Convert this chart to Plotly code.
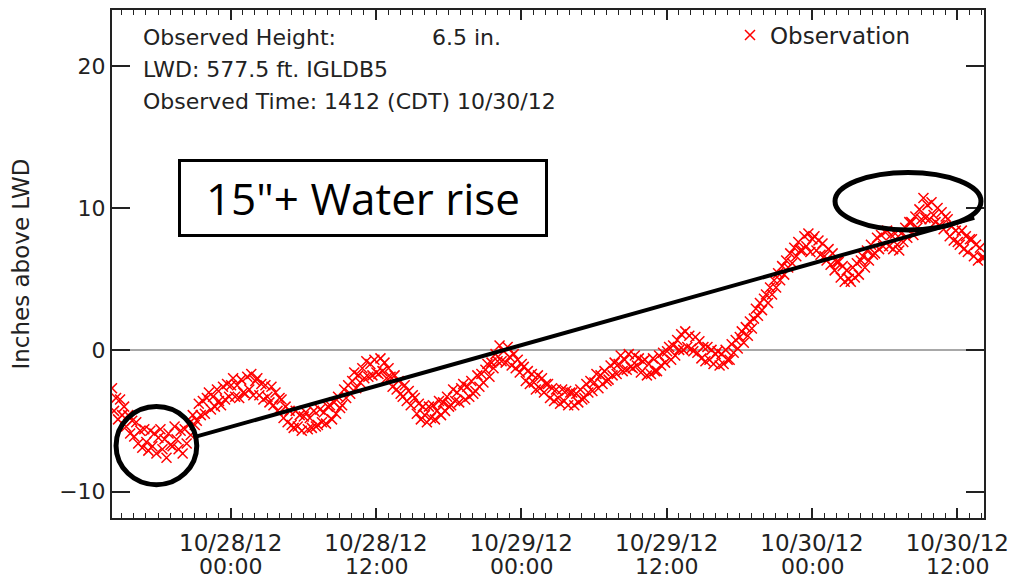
import pandas as pd
import plotly.graph_objects as go

# ---------------- data ----------------
start_time = "2012-10-27 14:12"
end_time = "2012-10-30 14:12"
sample_step = "10min"

# Observed water level (inches above LWD), six readings per hour (every 10 min)
obs_hourly = [
    [-2.7, -4.3, -3.4, -4.9, -3.5, -4.6], [-4.0, -5.4, -4.6, -5.9, -5.0, -6.1],
    [-5.1, -6.6, -5.7, -6.9, -5.6, -6.5], [-7.1, -5.7, -6.8, -5.9, -7.3, -6.2],
    [-5.6, -7.0, -6.3, -7.6, -5.9, -6.7], [-6.8, -5.4, -6.3, -7.0, -5.7, -7.3],
    [-5.6, -6.6, -5.2, -6.0, -4.6, -5.3], [-5.0, -3.8, -4.6, -3.6, -4.5, -3.4],
    [-3.0, -4.2, -3.3, -4.0, -2.8, -3.6], [-3.9, -2.6, -3.5, -2.4, -3.3, -2.5],
    [-2.0, -3.3, -2.5, -3.4, -2.1, -3.0], [-3.1, -1.9, -2.8, -1.7, -3.2, -2.2],
    [-2.0, -3.2, -2.4, -3.5, -2.5, -3.3], [-3.7, -2.6, -3.9, -3.0, -4.3, -3.4],
    [-3.5, -4.8, -4.0, -5.1, -4.3, -5.3], [-5.5, -4.3, -5.4, -4.6, -5.7, -4.7],
    [-4.4, -5.6, -4.8, -5.5, -4.3, -5.4], [-5.3, -4.2, -5.1, -4.4, -5.2, -4.0],
    [-3.9, -4.9, -3.7, -4.5, -3.3, -4.1], [-3.9, -2.8, -3.4, -2.5, -3.1, -2.2],
    [-1.6, -2.7, -1.8, -2.3, -1.3, -2.0], [-0.8, -1.9, -1.0, -1.8, -0.7, -1.6],
    [-1.7, -0.6, -1.5, -0.9, -2.0, -1.3], [-1.9, -2.6, -1.8, -2.8, -2.2, -3.1],
    [-3.3, -2.5, -3.6, -2.9, -3.9, -3.2], [-3.4, -4.5, -3.8, -4.9, -4.0, -4.6],
    [-5.1, -4.0, -4.8, -3.9, -4.9, -4.3], [-3.6, -4.6, -3.7, -4.3, -3.3, -4.0],
    [-3.9, -2.8, -3.6, -3.0, -3.7, -2.7], [-2.4, -3.5, -2.6, -3.3, -2.2, -3.1],
    [-2.9, -1.8, -2.6, -1.7, -2.3, -1.4], [-1.0, -1.9, -0.9, -1.3, -0.3, -0.8],
    [0.3, -0.8, -0.1, -0.9, 0.2, -0.5], [-1.1, -0.3, -1.3, -0.7, -1.6, -1.0],
    [-1.2, -2.2, -1.5, -2.4, -1.7, -2.3], [-2.8, -1.8, -2.7, -2.0, -3.0, -2.4],
    [-2.4, -3.4, -2.7, -3.6, -2.8, -3.4], [-3.8, -2.8, -3.6, -2.9, -3.9, -3.0],
    [-3.0, -3.9, -3.1, -3.7, -2.8, -3.5], [-3.4, -2.4, -3.0, -2.2, -2.9, -2.3],
    [-1.7, -2.7, -1.8, -2.4, -1.5, -2.2], [-2.1, -1.1, -1.8, -0.9, -1.7, -1.0],
    [-0.4, -1.5, -0.7, -1.4, -0.3, -1.2], [-1.3, -0.4, -1.1, -0.6, -1.6, -0.8],
    [-0.7, -1.8, -1.0, -1.7, -0.6, -1.5], [-1.5, -0.4, -1.1, -0.2, -0.9, -0.1],
    [0.2, -0.7, 0.3, -0.4, 0.7, 0.0], [1.1, 0.0, 1.3, 0.2, 1.0, 0.1],
    [-0.1, 0.9, -0.2, 0.6, -0.6, 0.2], [-0.8, 0.2, -0.7, 0.0, -1.0, -0.3],
    [-0.1, -1.1, -0.3, -1.0, 0.0, -0.7], [-0.7, 0.4, -0.2, 0.7, 0.1, 0.9],
    [1.3, 0.5, 1.6, 1.0, 2.0, 1.5], [2.2, 2.9, 2.4, 3.3, 2.8, 3.6],
    [3.9, 3.3, 4.4, 3.9, 4.9, 4.4], [5.4, 4.9, 5.9, 5.3, 6.3, 5.8],
    [6.8, 6.1, 7.2, 6.6, 7.6, 7.0], [7.0, 8.0, 7.3, 8.2, 6.9, 7.8],
    [8.0, 7.0, 7.7, 6.7, 7.5, 6.6], [6.3, 7.1, 6.0, 6.8, 5.6, 6.2],
    [6.2, 5.1, 5.9, 4.8, 5.6, 5.0], [4.8, 5.8, 5.1, 6.1, 5.3, 6.3],
    [6.6, 5.8, 7.0, 6.3, 7.4, 6.7], [6.8, 7.9, 7.1, 8.1, 7.3, 8.3],
    [8.4, 7.3, 8.1, 7.1, 8.2, 7.4], [7.0, 8.2, 7.6, 8.6, 7.9, 9.0],
    [9.0, 8.1, 9.4, 8.6, 9.9, 9.2], [10.7, 9.3, 10.2, 9.2, 10.4, 9.5],
    [9.0, 10.0, 8.8, 9.7, 8.5, 9.4], [9.2, 8.0, 8.7, 7.7, 8.4, 7.6],
    [7.4, 8.4, 7.1, 8.0, 6.9, 7.8], [7.8, 6.6, 7.4, 6.3, 7.2, 6.5],
]
final_obs = 6.5  # observed height at 1412 CDT 10/30/12

obs_values = [v for row in obs_hourly for v in row] + [final_obs]
obs_times = pd.date_range(start_time, periods=len(obs_values), freq=sample_step)

tick_vals = ["2012-10-28 00:00", "2012-10-28 12:00", "2012-10-29 00:00",
             "2012-10-29 12:00", "2012-10-30 00:00", "2012-10-30 12:00"]
tick_dates = ["10/28/12", "10/28/12", "10/29/12", "10/29/12", "10/30/12", "10/30/12"]
tick_hours = ["00:00", "12:00", "00:00", "12:00", "00:00", "12:00"]
y_tick_vals = [-10, 0, 10, 20]
y_tick_text = ["\u221210", "0", "10", "20"]

# hand-drawn annotation marks (data coordinates)
trend_times = ["2012-10-27 21:12", "2012-10-30 13:24"]
trend_values = [-6.1, 9.3]
circle_start_times = ["2012-10-27 14:32", "2012-10-30 01:54"]
circle_end_times = ["2012-10-27 21:12", "2012-10-30 13:57"]
circle_low_values = [-9.5, 8.45]
circle_high_values = [-4.0, 12.5]

# ---------------- figure ----------------
# the page body adds an 8px offset, so the figure is 8px smaller than the window
FIG_W, FIG_H = 1009, 573
AX_FONT = "DejaVu Sans"
INK = "#222"
fig = go.Figure()

fig.add_trace(go.Scatter(
    x=obs_times, y=obs_values, mode="markers", name="Observation",
    marker=dict(symbol="x-thin", size=10, color="red",
                line=dict(width=1.5, color="red")),
))

fig.add_trace(go.Scatter(
    x=trend_times, y=trend_values, mode="lines", showlegend=False,
    line=dict(color="black", width=4), hoverinfo="skip",
))

for x0, x1, y0, y1 in zip(circle_start_times, circle_end_times,
                          circle_low_values, circle_high_values):
    fig.add_shape(type="circle", xref="x", yref="y", x0=x0, x1=x1, y0=y0, y1=y1,
                  line=dict(color="black", width=5), layer="above")

# second line of the date tick labels
for tv, th in zip(tick_vals, tick_hours):
    fig.add_annotation(x=tv, xref="x", y=0, yref="paper", yanchor="middle",
                       yshift=-48, text=th, showarrow=False,
                       font=dict(family=AX_FONT, size=22, color=INK))

info_lines = ["Observed Height:", "LWD: 577.5 ft. IGLDB5",
              "Observed Time: 1412 (CDT) 10/30/12"]
info_y = [0.945, 0.882, 0.82]
for txt, yy in zip(info_lines, info_y):
    fig.add_annotation(x=(141 - 112) / 872, xref="paper", y=yy, yref="paper",
                       xanchor="left", yanchor="middle", text=txt, showarrow=False,
                       font=dict(family=AX_FONT, size=22, color=INK))
fig.add_annotation(x=(430 - 112) / 872, xref="paper", y=info_y[0], yref="paper",
                   xanchor="left", yanchor="middle", text="6.5 in.", showarrow=False,
                   font=dict(family=AX_FONT, size=22, color=INK))

fig.add_annotation(x=(363 - 112) / 872, xref="paper", y=(518 - 198) / 508, yref="paper",
                   xanchor="center", yanchor="middle",
                   text='15"+ Water rise', showarrow=False,
                   width=364, height=72, borderpad=0,
                   bordercolor="black", borderwidth=3, bgcolor="white",
                   font=dict(family="Open Sans", size=44, color="black"))

fig.update_xaxes(
    type="date", range=[start_time, end_time], automargin=False,
    tickmode="array", tickvals=tick_vals, ticktext=tick_dates,
    tickfont=dict(family=AX_FONT, size=23, color=INK),
    ticks="inside", ticklen=10, tickwidth=1.5, tickcolor=INK,
    minor=dict(dtick=3600000, tick0="2012-10-28 00:00", ticks="inside",
               ticklen=5, tickwidth=1, tickcolor=INK, showgrid=False),
    showline=True, linecolor=INK, linewidth=2, mirror="allticks",
    showgrid=False, zeroline=False, ticklabelstandoff=3,
)
fig.update_yaxes(
    range=[-11.85, 23.95], automargin=False,
    tickmode="array", tickvals=y_tick_vals, ticktext=y_tick_text,
    tickfont=dict(family=AX_FONT, size=22, color=INK),
    ticks="inside", ticklen=18, tickwidth=2, tickcolor=INK,
    showline=True, linecolor=INK, linewidth=2, mirror="allticks",
    showgrid=False, zeroline=True, zerolinecolor="#a8a8a8", zerolinewidth=1.5,
    title=dict(text="Inches above LWD", standoff=24,
               font=dict(family=AX_FONT, size=23, color=INK)),
)

fig.update_layout(
    width=FIG_W, height=FIG_H,
    margin=dict(l=104, r=FIG_W - 104 - 872, t=2, b=FIG_H - 2 - 508, autoexpand=False),
    paper_bgcolor="white", plot_bgcolor="white",
    showlegend=True,
    legend=dict(x=(730 - 112) / 872, y=0.993, xanchor="left", yanchor="top",
                bgcolor="rgba(0,0,0,0)", borderwidth=0,
                font=dict(family=AX_FONT, size=23, color=INK)),
)

fig.write_html("out.html")
